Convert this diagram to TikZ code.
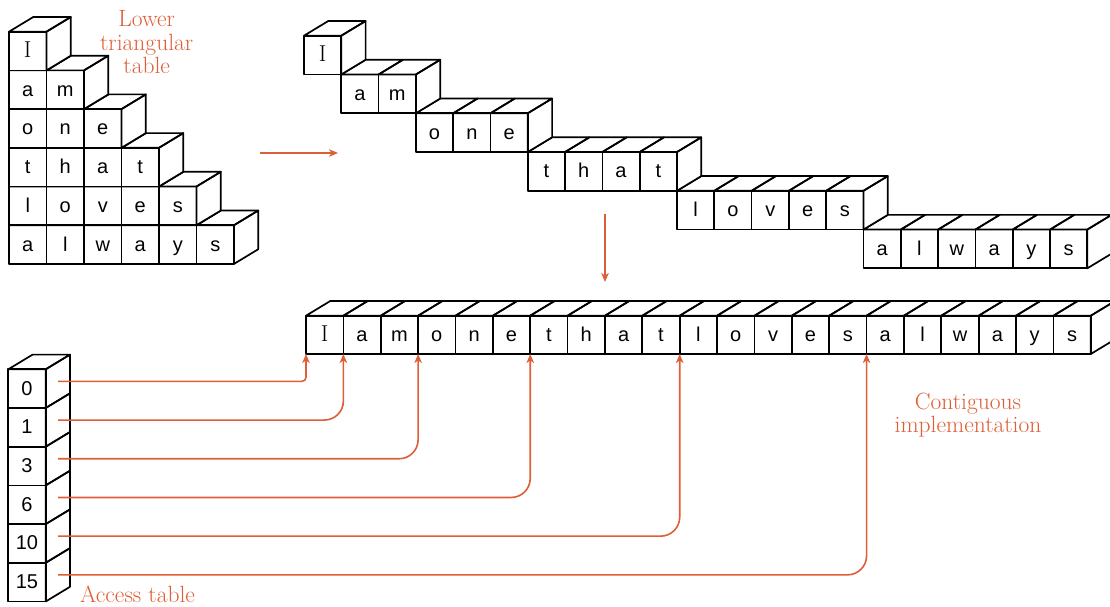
\documentclass[tikz,border=0pt]{standalone}
\usepackage{fontspec}
\newfontfamily\cellsans{Liberation Sans}
\usetikzlibrary{arrows.meta,calc}
\definecolor{accent}{RGB}{221,94,55}
\tikzset{
  face/.style={draw=black, line width=1.7pt, line join=round},
  cell/.style={face, inner sep=0pt, outer sep=0pt, anchor=north west,
    text height=13pt, text depth=0pt, font=\cellsans\fontsize{20}{20}\selectfont},
  lab/.style={text=accent, inner sep=0pt, font=\fontsize{23.5}{23.3}\selectfont, align=center},
  link/.style={draw=accent, line width=1.6pt, -{Stealth[length=9pt,width=7.5pt,inset=2.5pt]}},
}
\newcommand\sI{{\rmfamily\fontsize{23}{23}\selectfont I}}
\def\ddx{24.3}
\def\ddy{14.7}
% #1 prefix, #2 x0, #3 y0 (top), #4 cell width, #5 cell height, #6 number of cells, #7 texts
\newcommand\cuberow[7]{%
  \pgfmathsetmacro\xr{#2+#6*#4}%
  \fill[white] (#2,#3) -- ++(\ddx,-\ddy) -- ({\xr+\ddx},{#3-\ddy}) -- ++(0,#5)
     -- ({\xr},{#3+#5}) -- ({#2},{#3+#5}) -- cycle;%
  \foreach \t [count=\i from 0] in {#7} {%
    \pgfmathsetmacro\xl{#2+\i*#4}%
    \draw[face] (\xl,#3) -- ++(\ddx,-\ddy) -- ++(#4,0) -- ++(-\ddx,\ddy) -- cycle;%
    \node[cell, minimum width=#4pt, minimum height=#5pt] (#1\i) at (\xl,#3) {\t};%
  }%
  \draw[face] (\xr,#3) -- ++(\ddx,-\ddy) -- ++(0,#5) -- ++(-\ddx,\ddy) -- cycle;%
}
\begin{document}
\begin{tikzpicture}[x=1pt,y=-1pt]
\useasboundingbox (0,0) rectangle (1110,607);

% Lower triangular table (bottom row first)
\cuberow{tri5-}{9}{225.2}{37.5}{38.7}{6}{a,l,w,a,y,s}
\cuberow{tri4-}{9}{186.5}{37.5}{38.7}{5}{l,o,v,e,s}
\cuberow{tri3-}{9}{147.8}{37.5}{38.7}{4}{t,h,a,t}
\cuberow{tri2-}{9}{109.1}{37.5}{38.7}{3}{o,n,e}
\cuberow{tri1-}{9}{70.4}{37.5}{38.7}{2}{a,m}
\cuberow{tri0-}{9}{31.7}{37.5}{38.7}{1}{\sI}

% Staircase
\cuberow{st5-}{863.5}{229.55}{37.3}{38.77}{6}{a,l,w,a,y,s}
\cuberow{st4-}{677}{190.78}{37.3}{38.77}{5}{l,o,v,e,s}
\cuberow{st3-}{527.8}{152.01}{37.3}{38.77}{4}{t,h,a,t}
\cuberow{st2-}{415.9}{113.24}{37.3}{38.77}{3}{o,n,e}
\cuberow{st1-}{341.3}{74.47}{37.3}{38.77}{2}{a,m}
\cuberow{st0-}{304}{35.7}{37.3}{38.77}{1}{\sI}

% Contiguous implementation
\cuberow{c-}{306}{315.7}{37.37}{38.3}{21}{\sI,a,m,o,n,e,t,h,a,t,l,o,v,e,s,a,l,w,a,y,s}

% Access table (column)
\fill[white] (8.3,369.3) -- ++(\ddx,-\ddy) -- ({45.7+\ddx},{369.3-\ddy}) -- ({45.7+\ddx},{601.5-\ddy})
   -- (45.7,601.5) -- (8.3,601.5) -- cycle;
\draw[face] (8.3,369.3) -- ++(\ddx,-\ddy) -- ++(37.4,0) -- ++(-\ddx,\ddy) -- cycle;
\foreach \v [count=\i from 0] in {0,1,3,6,10,15} {
  \pgfmathsetmacro\yt{369.3+\i*38.7}
  \node[cell, minimum width=37.4pt, minimum height=38.7pt] (acc-\i) at (8.3,\yt) {\v};
  \draw[face] (45.7,\yt) -- ++(\ddx,-\ddy) -- ++(0,38.7) -- ++(-\ddx,\ddy) -- cycle;
  \coordinate (s\i) at ($(acc-\i.east)+(12.4,-7.3)$);
}

% Labels
\node[lab, anchor=north] (lblLower) at (146.7,10.5) {Lower\\triangular\\table};
\node[lab, anchor=north] (lblCont) at (968,392.5) {Contiguous\\implementation};
\node[lab, anchor=base west, align=left] (lblAcc) at (80,602) {Access table};

% Transformation arrows
\coordinate (hS) at (260,153);
\coordinate (hE) at (338,153);
\coordinate (vS) at (605,214);
\coordinate (vE) at (605,282);
\draw[link] (hS) -- (hE);
\draw[link] (vS) -- (vE);

% Access links
\draw[link, rounded corners=4pt] (s0) -| (c-0.south west);
\draw[link, rounded corners=19pt] (s1) -| (c-1.south west);
\draw[link, rounded corners=19pt] (s2) -| (c-3.south west);
\draw[link, rounded corners=19pt] (s3) -| (c-6.south west);
\draw[link, rounded corners=19pt] (s4) -| (c-10.south west);
\draw[link, rounded corners=19pt] (s5) -| (c-15.south west);
\end{tikzpicture}
\end{document}
